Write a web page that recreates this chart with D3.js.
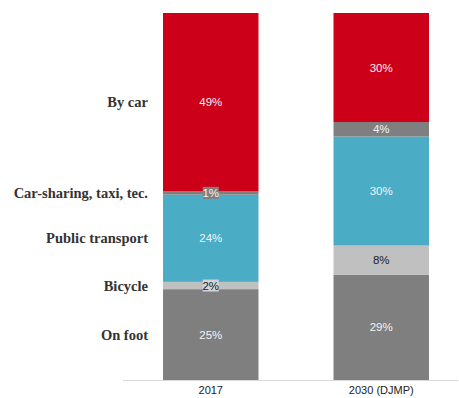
<!DOCTYPE html>
<html>
<head>
<meta charset="utf-8">
<script src="https://cdn.jsdelivr.net/npm/d3@7"></script>
<style>
  html, body { margin: 0; padding: 0; background: #fff; }
  svg { display: block; }
</style>
</head>
<body>
<svg id="chart" width="459" height="398"></svg>
<script>
// Modal split: share of trips by mode
const years = ["2017", "2030 (DJMP)"];
const modes = ["On foot", "Bicycle", "Public transport", "Car-sharing, taxi, tec.", "By car"];
const share2017 = [25, 2, 24, 1, 49];
const share2030 = [29, 8, 30, 4, 30];
const modeColors = ["#7f7f7f", "#c0c0c0", "#4bacc6", "#7f7f7f", "#cc0018"];
const labelColors = ["#f4f4f4", "#222222", "#f4f4f4", "#f4f4f4", "#f4f4f4"];
// small segments get a boxed label
const boxFill2017 = [null, "#d4d4d4", null, "#808080", null];

const svg = d3.select("#chart");

const rows = years.map((y, i) => {
  const vals = i === 0 ? share2017 : share2030;
  const r = { year: y };
  modes.forEach((m, j) => r[m] = vals[j]);
  return r;
});

const stack = d3.stack().keys(modes);
const series = stack(rows);

const x = d3.scaleBand()
  .domain(years)
  .range([125, 467])
  .paddingInner(0.44)
  .paddingOuter(0.223);

const y = d3.scaleLinear()
  .domain([0, 101])
  .range([380, 13]);

// baseline
svg.append("line")
  .attr("x1", 123).attr("x2", 458)
  .attr("y1", 380.5).attr("y2", 380.5)
  .attr("stroke", "#d9d9d9")
  .attr("stroke-width", 1);

// stacked segments
const layer = svg.append("g").selectAll("g")
  .data(series)
  .join("g")
  .attr("fill", (d, i) => modeColors[i]);

layer.selectAll("rect")
  .data(d => d)
  .join("rect")
  .attr("x", d => x(d.data.year))
  .attr("width", x.bandwidth())
  .attr("y", d => y(d[1]))
  .attr("height", d => y(d[0]) - y(d[1]));

// value labels
const valueFont = "'Liberation Sans', Arial, sans-serif";
series.forEach((s, i) => {
  s.forEach((d, k) => {
    const cx = x(d.data.year) + x.bandwidth() / 2;
    const cy = (y(d[0]) + y(d[1])) / 2;
    const v = d[1] - d[0];
    const box = k === 0 ? boxFill2017[i] : null;
    if (box) {
      svg.append("rect")
        .attr("x", cx - 8).attr("y", cy - 6)
        .attr("width", 16).attr("height", 12)
        .attr("fill", box);
    }
    svg.append("text")
      .attr("x", cx)
      .attr("y", cy)
      .attr("dy", "0.36em")
      .attr("text-anchor", "middle")
      .attr("font-family", valueFont)
      .attr("font-size", 11.5)
      .attr("fill", (k === 1 && i === 1) ? "#222222" : labelColors[i])
      .text(v + "%");
  });
});

// mode names, aligned with the 2017 segments
const first = series.map(s => s[0]);
svg.append("g").selectAll("text")
  .data(first)
  .join("text")
  .attr("x", 148)
  .attr("y", d => (y(d[0]) + y(d[1])) / 2)
  .attr("dy", "0.35em")
  .attr("text-anchor", "end")
  .attr("font-family", "'Liberation Serif', 'Times New Roman', serif")
  .attr("font-weight", "bold")
  .attr("font-size", 14.5)
  .attr("fill", "#333333")
  .text((d, i) => modes[i]);

// year axis
const xAxis = svg.append("g")
  .attr("transform", "translate(0,380)")
  .call(d3.axisBottom(x).tickSize(0).tickPadding(6));
xAxis.select(".domain").remove();
xAxis.selectAll("text")
  .attr("font-family", valueFont)
  .attr("font-size", 11)
  .attr("fill", "#222222");
</script>
</body>
</html>
